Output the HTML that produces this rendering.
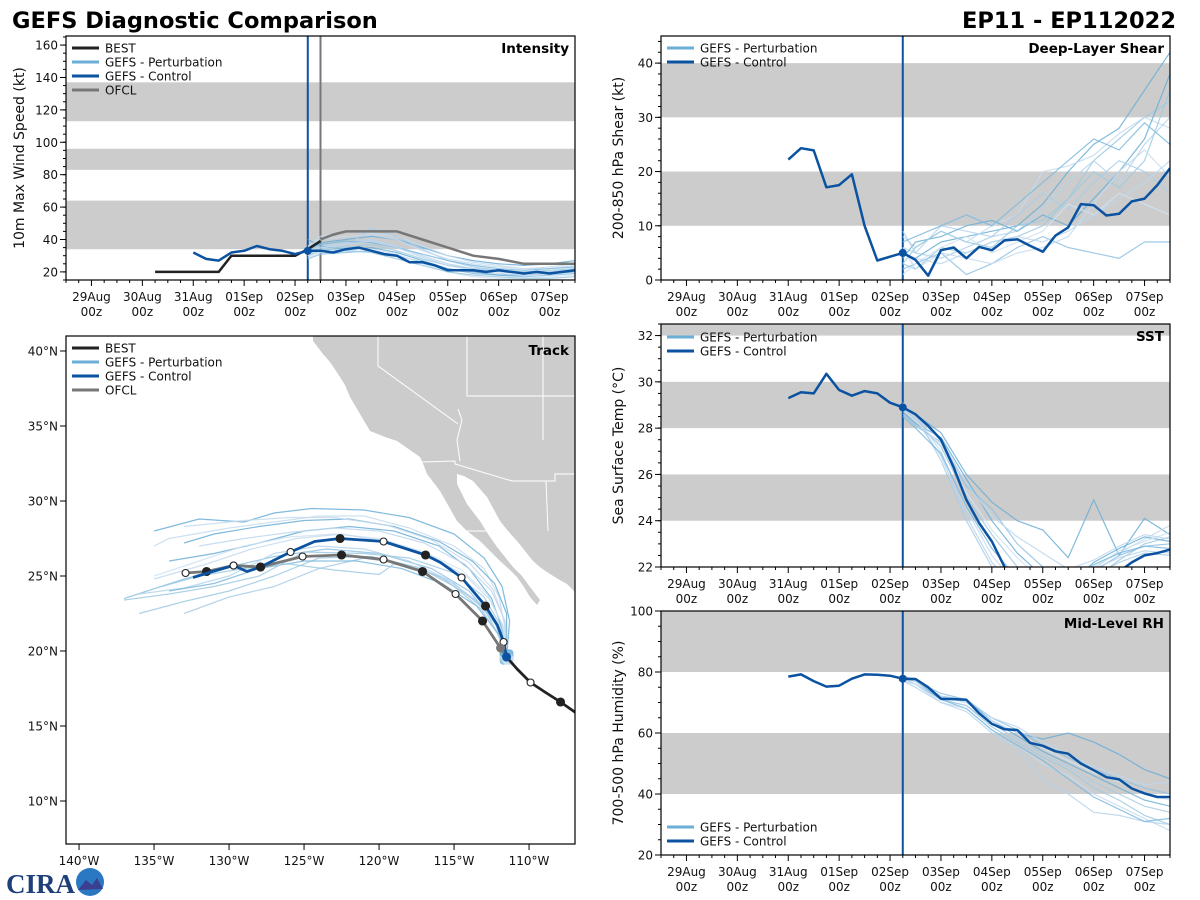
<!DOCTYPE html>
<html><head><meta charset="utf-8">
<style>
html,body{margin:0;padding:0;background:#fff;}
svg{display:block;font-family:"DejaVu Sans","Liberation Sans",sans-serif;}
</style></head>
<body>
<svg id="root" width="1200" height="900" viewBox="0 0 1200 900" xmlns="http://www.w3.org/2000/svg">
<text x="12" y="28" font-size="22.5" font-weight="bold">GEFS Diagnostic Comparison</text>
<text x="1176" y="28" font-size="22.5" font-weight="bold" text-anchor="end">EP11 - EP112022</text>
<g>
<text x="6" y="893" font-size="27" font-weight="bold" fill="#1f3f7a" font-family="Liberation Serif, serif">CIRA</text>
<circle cx="90" cy="882" r="14" fill="#2a78c2"/>
<path d="M78,890 L86,880 L92,885 L97,878 L103,889 Z" fill="#3a3f8f"/>
</g>
</svg>
<script>
// ---------- shared time axis ----------
var dayLabels = ["29Aug","30Aug","31Aug","01Sep","02Sep","03Sep","04Sep","05Sep","06Sep","07Sep"];
var pertT = [4.25,4.5,5,5.5,6,6.5,7,7.5,8,8.5,9,9.5];
var ctlT = [2,2.25,2.5,2.75,3,3.25,3.5,3.75,4,4.25,4.5,4.75,5,5.25,5.5,5.75,6,6.25,6.5,6.75,7,7.25,7.5,7.75,8,8.25,8.5,8.75,9,9.25,9.5];
var initTime = 4.25;
var ofclTime = 4.5;

// ---------- intensity ----------
var bestT = [1.25,1.5,1.75,2,2.25,2.5,2.75,3,3.25,3.5,3.75,4,4.25,4.5];
var bestV = [20,20,20,20,20,20,30,30,30,30,30,30,34,39];
var ofclT = [4.5,4.75,5,5.5,6,6.5,7,7.5,8,8.5,9,9.5];
var ofclV = [40,43,45,45,45,40,35,30,28,25,25,25];
var intCtl = [32,28,27,32,33,36,34,33,31,33,33,32,34,35,33,31,30,26,26,24,21,21,21,20,21,20,19,20,19,20,21];
var intPert = [
 [33,38,40,42,40,35,30,27,25,24,25,27],
 [30,33,35,37,33,28,24,22,21,20,21,22],
 [35,42,45,44,42,36,30,26,24,22,22,24],
 [28,31,32,33,30,26,22,19,18,17,18,19],
 [32,36,38,40,36,30,25,22,20,19,20,21],
 [40,36,34,35,32,27,22,20,18,18,19,20],
 [31,34,36,47,42,34,27,23,21,20,20,22],
 [29,32,33,34,31,25,20,17,16,16,17,18],
 [34,37,39,38,35,31,27,24,22,21,22,23],
 [30,35,37,39,35,29,24,21,19,18,19,21],
 [33,34,33,32,28,24,20,18,17,16,16,17],
 [36,40,42,43,40,33,28,25,23,22,23,25]];
var intTicks = [20,40,60,80,100,120,140,160];
var intBands = [[34,64],[83,96],[113,137]];

// ---------- shear ----------
var shrCtl = [22.2,24.3,23.9,17.1,17.5,19.5,10,3.6,4.3,5.0,3.7,0.8,5.5,6.0,4.0,6.1,5.5,7.3,7.5,6.3,5.2,8.2,9.7,14.0,13.8,11.9,12.2,14.5,15.0,17.5,20.6];
var shrPert = [
 [5,4,7,8,9,10,14,20,25,28,35,42],
 [3,2,6,5,7,8,10,15,22,26,30,33],
 [8,6,9,7,10,12,20,21,23,27,30,28],
 [2,3,5,1,3,6,8,6,5,4,7,7],
 [6,5,10,9,8,9,13,18,22,18,25,30],
 [4,7,8,10,11,9,12,10,15,20,26,38],
 [9,5,4,6,8,12,16,13,18,22,20,16],
 [1,3,6,8,5,7,9,14,12,16,14,12],
 [7,8,10,12,10,14,18,22,26,24,29,25],
 [5,4,3,5,7,8,7,9,12,15,18,22],
 [3,6,9,7,6,10,11,15,20,17,22,35],
 [6,2,5,4,3,5,6,8,14,20,24,19]];
var shrTicks = [0,10,20,30,40];
var shrBands = [[10,20],[30,40]];

// ---------- SST ----------
var sstCtl = [29.3,29.55,29.5,30.35,29.65,29.4,29.6,29.5,29.1,28.9,28.6,28.1,27.5,26.3,24.9,23.9,23.1,22.0,21.0,20.5,20.2,20.0,20.0,20.2,20.6,21.2,21.8,22.2,22.5,22.6,22.75];
var sstPert = [
 [28.9,28.6,27.8,26.0,24.8,24.0,23.6,22.4,24.9,22.5,24.1,23.4],
 [28.8,28.3,27.2,25.0,23.4,22.0,21.0,20.5,21.5,22.3,23.0,23.3],
 [29.1,28.5,27.0,24.5,22.5,21.2,20.6,20.8,22.0,22.6,23.2,23.8],
 [28.6,28.1,27.4,25.5,24.5,23.0,22.0,21.5,21.8,22.5,22.9,23.0],
 [28.9,28.4,26.8,24.2,22.2,21.0,20.5,21.0,21.9,22.4,22.7,22.6],
 [28.7,28.2,27.6,25.8,24.0,22.6,21.6,21.2,22.2,22.8,23.3,23.1],
 [29.0,28.6,26.6,24.0,22.0,20.8,20.3,20.6,21.6,22.2,22.6,22.5],
 [28.8,28.3,27.3,25.2,23.6,22.4,21.4,20.9,21.9,22.7,23.1,23.5],
 [28.5,28.0,26.9,24.6,22.8,21.5,20.9,21.3,22.1,22.6,22.9,22.8],
 [29.0,28.5,27.5,25.6,24.2,23.3,22.6,21.9,22.3,22.9,23.4,23.2]];
var sstTicks = [22,24,26,28,30,32];
var sstBands = [[24,26],[28,30],[32,34]];

// ---------- RH ----------
var rhCtl = [78.5,79.2,77,75.2,75.5,77.8,79.2,79.1,78.8,77.8,77.7,75,71.2,71.1,70.9,66.5,63,61.2,61,56.8,55.8,54,53.2,50,47.8,45.5,44.8,41.8,40.2,39,39];
var rhPert = [
 [78,77,72,70,64,60,58,60,57,53,48,45],
 [77,76,71,69,62,57,52,48,42,38,33,30],
 [78,76,70,68,61,56,50,46,40,36,32,28],
 [79,77,73,71,65,61,56,52,48,45,42,40],
 [77,75,70,67,60,55,45,40,34,33,31,30],
 [78,77,72,71,64,59,54,50,46,42,38,36],
 [78,76,71,69,63,58,53,49,44,40,36,34],
 [77,76,72,70,64,60,55,51,47,44,40,38],
 [78,77,71,68,61,56,51,45,39,35,31,32],
 [79,77,72,71,65,62,57,53,49,46,43,44]];
var rhTicks = [20,40,60,80,100];
var rhBands = [[40,60],[80,100]];

// ---------- track ----------
var bestTrack = [[-106.9,15.9],[-107.9,16.6],[-109,17.3],[-109.9,17.9],[-110.8,18.8],[-111.5,19.6]];
var ofclTrack = [[-111.5,19.6],[-111.9,20.2],[-113.1,22.0],[-114.9,23.8],[-117.1,25.3],[-119.7,26.1],[-122.5,26.4],[-125.1,26.3],[-127.9,25.6],[-129.7,25.7],[-131.5,25.3],[-132.9,25.2]];
var ctlTrack = [[-111.5,19.6],[-111.7,20.6],[-112.1,21.7],[-112.9,23.0],[-114.5,24.9],[-115.9,25.9],[-116.9,26.4],[-119.7,27.3],[-122.6,27.5],[-124.3,27.3],[-125.9,26.6],[-127.9,25.6],[-128.8,25.3],[-129.7,25.7],[-131.1,25.3],[-132.4,24.9]];
var pertTracks = [
 [[-111.5,19.6],[-111.8,21.5],[-112.5,23.5],[-114,25.5],[-116,27.0],[-119,28.0],[-122,28.3],[-125,28.0],[-128,27.2],[-131,26.5],[-134,26.0]],
 [[-111.5,19.6],[-112,21],[-113,22.8],[-115,24.5],[-117.5,25.6],[-120.5,26.3],[-124,26.2],[-127,25.0],[-130,24.0],[-133,23.3],[-136,22.5]],
 [[-111.5,19.6],[-111.6,21.5],[-112,23.6],[-113,25.5],[-115,27.0],[-118,28.2],[-121,29.0],[-124,29.0],[-127,28.6],[-130,28.2],[-134,27.5],[-135,27.0]],
 [[-111.5,19.6],[-112.3,22.0],[-114,24.0],[-116.5,25.5],[-120,26.5],[-123.5,26.8],[-127,26.3],[-130,25.6],[-133,24.8],[-137,23.5]],
 [[-111.5,19.6],[-111.7,21],[-113,23],[-115.5,24.8],[-118,26],[-121,26.8],[-124,27],[-127,26.5],[-130,25.0],[-133,24.2],[-136,23.8]],
 [[-111.5,19.6],[-111.5,22.5],[-112.3,24.5],[-113.8,26.0],[-116,27.3],[-119,28.3],[-122,28.8],[-125,28.7],[-128,28.3],[-131,27.8],[-133,27.2]],
 [[-111.5,19.6],[-112,21.5],[-113.5,23.3],[-116,25.0],[-118.5,25.8],[-121,26.2],[-124,25.5],[-127,24.3],[-130,23.6],[-133,22.5]],
 [[-111.5,19.6],[-111.8,21.8],[-112.8,23.8],[-114.5,25.4],[-117,26.6],[-120,27.5],[-123,27.8],[-126,27.6],[-129,27.0],[-132,26.0],[-135,25.0]],
 [[-111.5,19.6],[-112.1,21.2],[-113.5,23.0],[-115.8,24.5],[-118.5,25.5],[-121.5,26.0],[-125,26.0],[-128,25.5],[-131,24.5],[-134,24.0]],
 [[-111.5,19.6],[-111.6,22],[-112.5,24],[-114.3,25.8],[-117,27.2],[-120,28.0],[-123,28.2],[-126,27.9],[-129,27.5],[-132,27.0]],
 [[-111.5,19.6],[-112,21],[-113.2,22.8],[-115,24.3],[-117,25.4],[-119,25.8],[-120,25.1],[-123,25.4],[-126,25.8],[-129,25.5],[-132,25.0],[-134.5,24.3]],
 [[-111.5,19.6],[-111.7,21.6],[-112.6,23.4],[-114.2,25.0],[-116.7,26.4],[-119.5,27.3],[-122.5,27.8],[-125.5,27.5],[-128.5,26.8],[-131.5,25.8],[-135,24.8]],
 [[-111.5,19.6],[-111.3,22.0],[-111.8,24.3],[-113,26.2],[-115,27.8],[-118,28.9],[-121,29.4],[-124.5,29.5],[-127,29.2],[-129,28.6],[-132,28.8],[-135,28.0]],
 [[-111.5,19.6],[-111.9,21.7],[-113,23.6],[-115,25.2],[-118,26.2],[-121,26.5],[-125,26.6],[-128,25.0],[-131,24.3],[-134,23.8],[-137,23.4]],
 [[-111.5,19.6],[-111.6,21.9],[-112.4,24.1],[-114,25.9],[-116.5,27.4],[-119.5,28.4],[-123,28.9],[-126,28.9],[-129,28.7],[-133,28.3]]];
var lonTicks = [-140,-135,-130,-125,-120,-115,-110];
var latTicks = [10,15,20,25,30,35,40];

// ---------- rendering ----------
var NS = "http://www.w3.org/2000/svg";
var root = document.getElementById("root");
var pertColors = ["#6baed6","#9ecae1","#c6dbef","#8fc1e3","#b5d4ec","#6baed6","#a9cde8","#d0e3f3","#7db8de","#bcd7ee","#9ecae1","#c6dbef"];
var CTL = "#0b52a0";
function mk(tag, attrs, parent){
  var e = document.createElementNS(NS, tag);
  for (var k in attrs) e.setAttribute(k, attrs[k]);
  (parent||root).appendChild(e);
  return e;
}
function pathD(xs, ys){
  var d = "";
  for (var i=0;i<xs.length;i++) d += (i?"L":"M")+xs[i].toFixed(1)+","+ys[i].toFixed(1);
  return d;
}
var clipId = 0;
function timePanel(cfg){
  var L=cfg.x0, R=cfg.x1, T=cfg.y0, B=cfg.y1;
  var g = mk("g", {});
  
  
  var sx = function(t){ return L + (t+0.5)/10*(R-L); };
  var sy = function(v){ return B - (v-cfg.ymin)/(cfg.ymax-cfg.ymin)*(B-T); };
  var cid = "clip"+(clipId++);
  var cp = mk("clipPath", {id:cid}, g);
  mk("rect", {x:L,y:T,width:R-L,height:B-T}, cp);
  var pg = mk("g", {"clip-path":"url(#"+cid+")"}, g);
  cfg.bands.forEach(function(b){
    var r = mk("rect", {x:L, y:sy(b[1]), width:R-L, height:sy(b[0])-sy(b[1]), fill:"#cccccc"}, pg);
    
    
  });
  var vl = mk("line", {x1:sx(initTime),x2:sx(initTime),y1:T,y2:B,stroke:CTL,"stroke-width":2}, pg);
  
  
  if (cfg.ofcl){
    var gl = mk("line", {x1:sx(ofclTime),x2:sx(ofclTime),y1:T,y2:B,stroke:"#777","stroke-width":2}, pg);
    
    
  }
  cfg.pert.forEach(function(m,i){
    var p = mk("path", {d:pathD(pertT.map(sx), m.map(sy)), fill:"none", stroke:pertColors[i%pertColors.length], "stroke-width":1.2, opacity:0.85}, pg);
    
    
  });
  if (cfg.best){
    var bp = mk("path", {d:pathD(bestT.map(sx), bestV.map(sy)), fill:"none", stroke:"#222", "stroke-width":2.5}, pg);
    
    
  }
  if (cfg.ofcl){
    var op = mk("path", {d:pathD(ofclT.map(sx), ofclV.map(sy)), fill:"none", stroke:"#777", "stroke-width":2.5}, pg);
    
    
  }
  var cpth = mk("path", {d:pathD(ctlT.map(sx), cfg.ctl.map(sy)), fill:"none", stroke:CTL, "stroke-width":2.5, "stroke-linejoin":"round"}, pg);
  
  
  var ci = ctlT.indexOf(initTime);
  var dot = mk("circle", {cx:sx(initTime), cy:sy(cfg.ctl[ci]), r:4, fill:CTL}, pg);
  
  
  var fr = mk("rect", {x:L,y:T,width:R-L,height:B-T,fill:"none",stroke:"#000","stroke-width":1.2}, g);
  
  
  for (var q=-2; q<=38; q++){
    var t = q*0.25; var x = sx(t);
    if (x<L-0.1||x>R+0.1) continue;
    var major = (q%4===0);
    mk("line", {x1:x,x2:x,y1:B,y2:B+(major?6:3),stroke:"#000","stroke-width":1}, g);
  }
  dayLabels.forEach(function(lab,d){
    var x = sx(d);
    var t1 = mk("text", {x:x, y:B+21, "font-size":12, "text-anchor":"middle", fill:"#111"}, g);
    t1.textContent = lab;
    
    
    var t2 = mk("text", {x:x, y:B+36, "font-size":12, "text-anchor":"middle", fill:"#111"}, g);
    t2.textContent = "00z";
    
    
  });
  for (var v=cfg.ymin - ((cfg.ymin%cfg.minor)+cfg.minor)%cfg.minor; v<=cfg.ymax+1e-6; v+=cfg.minor){
    if (v<cfg.ymin-1e-6) continue;
    mk("line", {x1:L-3,x2:L,y1:sy(v),y2:sy(v),stroke:"#000","stroke-width":1}, g);
  }
  cfg.ticks.forEach(function(v){
    var y = sy(v);
    mk("line", {x1:L-6,x2:L,y1:y,y2:y,stroke:"#000","stroke-width":1}, g);
    var tl = mk("text", {x:L-8, y:y+4.5, "font-size":12, "text-anchor":"end", fill:"#111"}, g);
    tl.textContent = v;
    
    
  });
  var cy = (T+B)/2;
  var yl = mk("text", {x:0, y:0, "font-size":14, "text-anchor":"middle", transform:"translate("+(cfg.ylabX)+","+cy+") rotate(-90)", fill:"#111"}, g);
  yl.textContent = cfg.ylabel;
  
  
  var tt = mk("text", {x:R-6, y:T+17, "font-size":13.5, "font-weight":"bold", "text-anchor":"end"}, g);
  tt.textContent = cfg.title;
  
  
  legend(g, L+6, cfg.legY, cfg.legend);
}
function legend(g, x, y, items){
  var lg = mk("g", {}, g);
  
  
  items.forEach(function(it,i){
    var yy = y + i*14;
    mk("line", {x1:x, x2:x+27, y1:yy, y2:yy, stroke:it[1], "stroke-width":3}, lg);
    var tx = mk("text", {x:x+33, y:yy+4.5, "font-size":12, fill:"#111"}, lg);
    tx.textContent = it[0];
    
    
  });
}
var LEG_P = ["GEFS - Perturbation","#6baed6"], LEG_C = ["GEFS - Control", CTL];
timePanel({name:"intensity-panel",x0:66,x1:575,y0:36,y1:280,ymin:15,ymax:165.6,ticks:intTicks,minor:5,bands:intBands,ctl:intCtl,pert:intPert,best:true,ofcl:true,ylabel:"10m Max Wind Speed (kt)",ylabX:24,title:"Intensity",legY:48,legend:[["BEST","#222"],LEG_P,LEG_C,["OFCL","#777"]]});
timePanel({name:"shear-panel",x0:661,x1:1170,y0:36,y1:280,ymin:0,ymax:45,ticks:shrTicks,minor:2,bands:shrBands,ctl:shrCtl,pert:shrPert,ylabel:"200-850 hPa Shear (kt)",ylabX:623,title:"Deep-Layer Shear",legY:48,legend:[LEG_P,LEG_C]});
timePanel({name:"sst-panel",x0:661,x1:1170,y0:324,y1:567,ymin:22,ymax:32.5,ticks:sstTicks,minor:0.5,bands:sstBands,ctl:sstCtl,pert:sstPert,ylabel:"Sea Surface Temp (\u00B0C)",ylabX:623,title:"SST",legY:337,legend:[LEG_P,LEG_C]});
timePanel({name:"rh-panel",x0:661,x1:1170,y0:611,y1:855,ymin:20,ymax:100,ticks:rhTicks,minor:5,bands:rhBands,ctl:rhCtl,pert:rhPert,ylabel:"700-500 hPa Humidity (%)",ylabX:623,title:"Mid-Level RH",legY:827,legend:[LEG_P,LEG_C]});

// ---------- track panel ----------
(function(){
  var L=66,R=575,T=336,B=844;
  var lonMin=-140.87, latMax=41.0, ppd=15;
  var sx = function(lon){ return L + (lon-lonMin)*ppd; };
  var sy = function(lat){ return T + (latMax-lat)*ppd; };
  var g = mk("g", {});
  
  
  var cp = mk("clipPath", {id:"trackclip"}, g);
  mk("rect", {x:L,y:T,width:R-L,height:B-T}, cp);
  var pg = mk("g", {"clip-path":"url(#trackclip)"}, g);
  var land = mk("path", {d:"M313,336 L313,341 L323,354 L330,362 L340,377 L345,385 L350,397 L360,414 L370,431 L385,437 L397,441 L410,450 L420,457 L424,466 L427,474 L434,483 L440,491 L448,505 L457,521 L467,531 L480,541 L490,551 L500,561 L510,570 L517,577 L524,587 L530,597 L537,605 L540,600 L530,587 L522,576 L513,567 L505,557 L497,547 L488,534 L480,521 L473,512 L467,504 L462,494 L457,484 L457,474 L464,476 L473,481 L480,489 L487,497 L493,508 L500,521 L508,531 L517,541 L525,551 L533,561 L541,568 L550,574 L558,579 L567,584 L575,592 L575,336 Z", fill:"#cccccc"}, pg);
  
  
  var borders = mk("path", {d:"M378,336 L378,366 L458,424 M467,336 L467,396 L577,396 M543,336 L543,440 M458,409 L462,420 L457,440 L460,461 M422,462 L455,461 L455,464 L512,481 L555,481 L555,474 L577,474 M546,481 L548,531 M467,531 L487,531", fill:"none", stroke:"#fff", "stroke-width":1}, pg);
  
  
  pertTracks.forEach(function(tr,i){
    var p = mk("path", {d:pathD(tr.map(function(p){return sx(p[0]);}), tr.map(function(p){return sy(p[1]);})), fill:"none", stroke:pertColors[i%pertColors.length], "stroke-width":1.2, opacity:0.85}, pg);
    
    
    var d = mk("circle", {cx:sx(tr[0][0])+((i%3)-1)*3, cy:sy(tr[0][1])+((i%4)-1.5)*2.5, r:4, fill:pertColors[i%pertColors.length]}, pg);
    
    
  });
  function drawTrack(tr, color, name, markers){
    var p = mk("path", {d:pathD(tr.map(function(p){return sx(p[0]);}), tr.map(function(p){return sy(p[1]);})), fill:"none", stroke:color, "stroke-width":2.8, "stroke-linejoin":"round"}, pg);
    
    
    markers.forEach(function(m){
      var pt = tr[m[0]];
      var c = mk("circle", {cx:sx(pt[0]), cy:sy(pt[1]), r:m[1]?3.5:4, fill:m[1]?"#fff":"#222", stroke:"#222", "stroke-width":1.1}, pg);
      
      
    });
  }
  drawTrack(bestTrack, "#222", "best-track", [[1,0],[3,1]]);
  drawTrack(ofclTrack, "#777", "ofcl-track", [[2,0],[3,1],[4,0],[5,1],[6,0],[7,1],[8,0],[9,1],[10,0],[11,1]]);
  drawTrack(ctlTrack, CTL, "control-track", [[1,1],[3,0],[4,1],[6,0],[7,1],[8,0],[10,1],[11,0],[13,1]]);
  var od = mk("circle", {cx:sx(ofclTrack[1][0]), cy:sy(ofclTrack[1][1]), r:4.5, fill:"#777"}, pg);
  
  
  var cd = mk("circle", {cx:sx(ctlTrack[0][0]), cy:sy(ctlTrack[0][1]), r:4.5, fill:CTL}, pg);
  
  
  var fr = mk("rect", {x:L,y:T,width:R-L,height:B-T,fill:"none",stroke:"#000","stroke-width":1.2}, g);
  
  
  lonTicks.forEach(function(lon){
    var x = sx(lon);
    mk("line", {x1:x,x2:x,y1:B,y2:B+6,stroke:"#000"}, g);
    var t = mk("text", {x:x, y:B+21, "font-size":12, "text-anchor":"middle", fill:"#111"}, g);
    t.textContent = (-lon)+"\u00B0W";
    
    
  });
  latTicks.forEach(function(lat){
    var y = sy(lat);
    mk("line", {x1:L-6,x2:L,y1:y,y2:y,stroke:"#000"}, g);
    var t = mk("text", {x:L-8, y:y+4.5, "font-size":12, "text-anchor":"end", fill:"#111"}, g);
    t.textContent = lat+"\u00B0N";
    
    
  });
  var tt = mk("text", {x:R-6, y:T+19, "font-size":13.5, "font-weight":"bold", "text-anchor":"end"}, g);
  tt.textContent = "Track";
  
  
  legend(g, L+6, 348, [["BEST","#222"],LEG_P,LEG_C,["OFCL","#777"]]);
})();
</script>
</body></html>
